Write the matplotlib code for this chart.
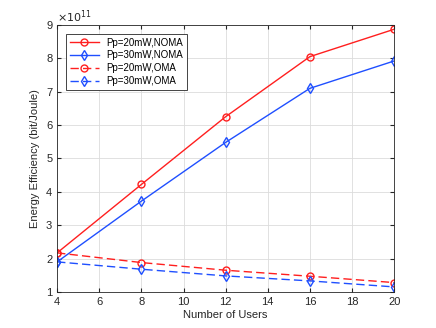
import numpy as np
import matplotlib.pyplot as plt

plt.rcParams['font.family'] = ['Liberation Sans', 'DejaVu Sans']

# データ (単位: 1e11 bit/Joule)
users = [4, 8, 12, 16, 20]
noma_20 = [2.17, 4.22, 6.25, 8.05, 8.87]
noma_30 = [1.90, 3.72, 5.48, 7.10, 7.92]
oma_20 = [2.17, 1.88, 1.65, 1.47, 1.28]
oma_30 = [1.90, 1.68, 1.48, 1.33, 1.15]

red = '#ff1f1f'
blue = '#1f4fff'

fig = plt.figure(figsize=(4.36, 3.28), dpi=100)
ax = fig.add_axes([0.131, 0.11, 0.773, 0.814])

ax.plot(users, noma_20, '-o', color=red, lw=1.0, ms=5, mfc='none', mew=1.0, label='Pp=20mW,NOMA')
ax.plot(users, noma_30, '-d', color=blue, lw=1.0, ms=5, mfc='none', mew=1.0, label='Pp=30mW,NOMA')
ax.plot(users, oma_20, '--o', color=red, lw=1.0, ms=5, mfc='none', mew=1.0, dashes=(6, 3), label='Pp=20mW,OMA')
ax.plot(users, oma_30, '--d', color=blue, lw=1.0, ms=5, mfc='none', mew=1.0, dashes=(6, 3), label='Pp=30mW,OMA')

ax.set_xlim(4, 20)
ax.set_ylim(1, 9)
ax.set_xticks(np.arange(4, 21, 2))
ax.set_yticks(np.arange(1, 10, 1))
ax.grid(True, color='#dcdcdc', lw=0.6)
ax.tick_params(direction='in', labelsize=8, colors='#262626', length=3, top=True, right=True)
for s in ax.spines.values():
    s.set_color('#262626')
    s.set_linewidth(0.6)

ax.set_xlabel('Number of Users', fontsize=8, color='#262626', labelpad=2)
ax.set_ylabel('Energy Efficiency (bit/Joule)', fontsize=8, color='#262626', labelpad=4)
ax.text(0.0, 1.012, r'$\times10^{11}$', transform=ax.transAxes, fontsize=8, color='#262626')

leg = ax.legend(loc='upper left', fontsize=7, frameon=True, fancybox=False,
                edgecolor='#262626', framealpha=1, borderaxespad=0.9,
                handlelength=3, labelspacing=0.3)
leg.get_frame().set_linewidth(0.6)

fig.savefig('out.png', dpi=100)
